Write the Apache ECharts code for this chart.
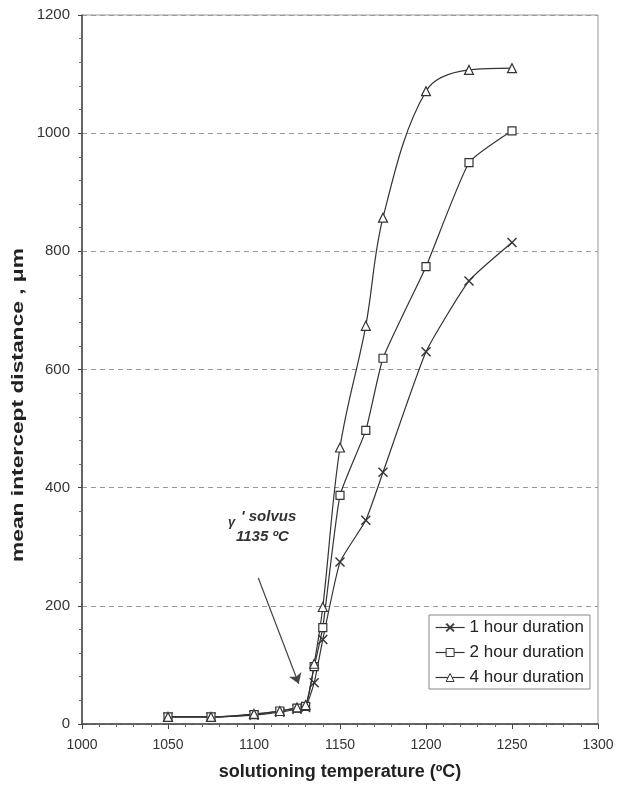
<!DOCTYPE html>
<html>
<head>
<meta charset="utf-8">
<script src="https://cdn.jsdelivr.net/npm/echarts@6/dist/echarts.min.js"></script>
<style>html,body{margin:0;padding:0;background:#fff;}#c{width:624px;height:786px;}</style>
</head>
<body>
<div id="c"></div>
<script>
var temps = [1050, 1075, 1100, 1115, 1125, 1130, 1135, 1140, 1150, 1165, 1175, 1200, 1225, 1250];
var hour1 = [12, 12, 15, 20, 25, 28, 70, 143, 274, 345, 426, 630, 750, 815];
var hour2 = [12, 12, 16, 22, 27, 30, 97, 163, 387, 497, 619, 774, 950, 1004];
var hour4 = [12, 12, 17, 22, 28, 32, 102, 198, 468, 674, 857, 1071, 1107, 1110];
var seriesNames = ['1 hour duration', '2 hour duration', '4 hour duration'];
var arrowFrom = [1102.5, 247];
var arrowTo = [1126, 68];

function pairs(v) { return temps.map(function (t, i) { return [t, v[i]]; }); }

var crossPath = 'path://M0,1 L1,0 L5,4 L9,0 L10,1 L6,5 L10,9 L9,10 L5,6 L1,10 L0,9 L4,5 Z';
var lineCol = '#333';

function mkSeries(name, data, symbol, size, fill, smooth) {
  return {
    name: name, type: 'line', data: pairs(data), smooth: smooth,
    symbol: symbol, symbolSize: size, showAllSymbol: true,
    lineStyle: { color: lineCol, width: 1.2 },
    itemStyle: { color: fill, borderColor: lineCol, borderWidth: fill === lineCol ? 0 : 1.2 },
    emphasis: { disabled: true }, z: 3
  };
}

var chart = echarts.init(document.getElementById('c'), null, { renderer: 'canvas' });
var s1 = mkSeries(seriesNames[0], hour1, crossPath, 10, lineCol, 0.15);
var s2 = mkSeries(seriesNames[1], hour2, 'rect', 8, '#fff', 0.15);
var s4 = mkSeries(seriesNames[2], hour4, 'triangle', 9, '#fff', 0.35);
s1.markLine = {
  silent: true, symbol: ['none', 'arrow'], symbolSize: 10,
  lineStyle: { color: '#444', width: 1.2, type: 'solid' },
  label: { show: false },
  data: [[{ coord: arrowFrom }, { coord: arrowTo }]]
};

var plain = function (v) { return String(v); };

chart.setOption({
  animation: false,
  backgroundColor: '#fff',
  textStyle: { fontFamily: 'Liberation Sans, Arial, sans-serif' },
  grid: { left: 82, right: 26, top: 15, bottom: 62, show: true, borderColor: '#999', borderWidth: 1 },
  xAxis: {
    type: 'value', min: 1000, max: 1300, interval: 50,
    name: 'solutioning temperature (ºC)', nameLocation: 'middle', nameGap: 39,
    nameTextStyle: { fontSize: 18, fontWeight: 'bold', color: '#222' },
    axisLine: { lineStyle: { color: '#444', width: 1.5 } },
    axisTick: { show: true, length: 5, lineStyle: { color: '#444' } },
    minorTick: { show: true, splitNumber: 5, length: 3, lineStyle: { color: '#666' } },
    axisLabel: { fontSize: 14, color: '#333', margin: 14, formatter: plain },
    splitLine: { show: false }
  },
  yAxis: {
    type: 'value', min: 0, max: 1200, interval: 200,
    axisLine: { show: true, lineStyle: { color: '#444', width: 1.5 } },
    axisTick: { show: true, length: 4, lineStyle: { color: '#444' } },
    minorTick: { show: true, splitNumber: 5, length: 3, lineStyle: { color: '#666' } },
    axisLabel: { fontSize: 15, color: '#333', margin: 12, formatter: plain },
    splitLine: { show: true, lineStyle: { color: '#999', type: [5, 4], width: 1 } }
  },
  legend: {
    data: seriesNames, orient: 'vertical', left: 429, top: 615,
    backgroundColor: '#fff', borderColor: '#888', borderWidth: 1,
    padding: [4, 6, 3, 6], itemGap: 8, itemWidth: 29, itemHeight: 10,
    itemStyle: { borderWidth: 1 },
    lineStyle: { width: 1.2 },
    textStyle: { fontSize: 17, color: '#222' },
    selectedMode: false
  },
  graphic: [
    { type: 'text', x: 18, y: 405, rotation: Math.PI / 2, scaleX: 1.34,
      style: { text: 'mean intercept distance , μm', font: 'bold 17px Liberation Sans', fill: '#222', align: 'center', verticalAlign: 'middle' } },
    { type: 'text', x: 228, y: 522, style: { text: 'γ', font: 'italic bold 13px Liberation Sans', fill: '#333', verticalAlign: 'middle' } },
    { type: 'text', x: 241, y: 517, style: { text: "' solvus", font: 'italic bold 15px Liberation Sans', fill: '#333', verticalAlign: 'middle' } },
    { type: 'text', x: 236, y: 537, style: { text: '1135 ºC', font: 'italic bold 15px Liberation Sans', fill: '#333', verticalAlign: 'middle' } }
  ],
  series: [s1, s2, s4]
});
</script>
</body>
</html>
